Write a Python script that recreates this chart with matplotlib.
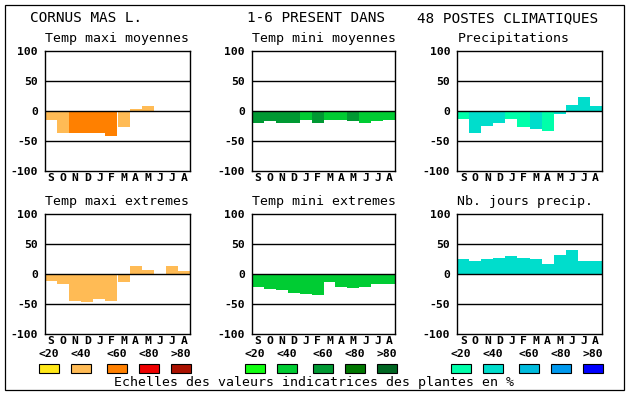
import numpy as np
import matplotlib.pyplot as plt
from matplotlib.patches import Rectangle

plt.rcParams['font.family'] = ['DejaVu Sans Mono']

# --- Data ---
months = ['S', 'O', 'N', 'D', 'J', 'F', 'M', 'A', 'M', 'J', 'J', 'A']

titles = ['Temp maxi moyennes', 'Temp mini moyennes', 'Precipitations',
          'Temp maxi extremes', 'Temp mini extremes', 'Nb. jours precip.']

tmax_moy = [-16, -38, -38, -37, -37, -42, -28, 2, 7, -2, -2, 0]
tmax_moy_cls = [1, 1, 2, 2, 2, 2, 1, 1, 1, 1, 1, 1]

tmin_moy = [-21, -18, -21, -21, -16, -21, -16, -16, -18, -21, -18, -16]
tmin_moy_cls = [2, 2, 2, 2, 1, 2, 1, 1, 2, 1, 1, 1]

precip = [-14, -38, -25, -21, -14, -27, -31, -33, -6, 10, 23, 7]
precip_cls = [0, 1, 1, 1, 0, 0, 1, 0, 1, 1, 1, 1]

tmax_ext = [-11, -16, -44, -46, -41, -44, -12, 14, 7, 0, 14, 6]
tmax_ext_cls = [1] * 12

tmin_ext = [-21, -24, -26, -31, -33, -34, -13, -21, -23, -21, -16, -16]
tmin_ext_cls = [1] * 12

jours_precip = [25, 22, 25, 27, 30, 27, 25, 17, 32, 40, 23, 23]
jours_precip_cls = [1] * 12

legend_labels = ['<20', '<40', '<60', '<80', '>80']
pal_orange = ['#ffe819', '#ffbb55', '#ff8000', '#ee0000', '#aa1100']
pal_green = ['#11ff11', '#00cc33', '#009933', '#007700', '#006622']
pal_blue = ['#00ffaa', '#00ddcc', '#00bbdd', '#0099ee', '#0000ff']

panels = [
    (tmax_moy, tmax_moy_cls, pal_orange),
    (tmin_moy, tmin_moy_cls, pal_green),
    (precip, precip_cls, pal_blue),
    (tmax_ext, tmax_ext_cls, pal_orange),
    (tmin_ext, tmin_ext_cls, pal_green),
    (jours_precip, jours_precip_cls, pal_blue),
]

W, H = 630, 394
fig = plt.figure(figsize=(W / 100, H / 100), dpi=100)

# overlay axes in pixel units for the frame, titles and legend
ov = fig.add_axes([0, 0, 1, 1])
ov.set_xlim(0, W)
ov.set_ylim(H, 0)
ov.axis('off')

ov.add_patch(Rectangle((5, 4.5), 619, 385.5, fill=False, ec='black', lw=0.9))
ov.text(30.5, 18, 'CORNUS MAS L.', fontsize=10.4, va='center', ha='left')
ov.text(247, 18, '1-6 PRESENT DANS', fontsize=10.4, va='center', ha='left')
ov.text(417, 18, '48 POSTES CLIMATIQUES', fontsize=10.4, va='center', ha='left')

col_x = [(45, 190), (251.7, 395.3), (457.3, 601.7)]
row_y = [(50.7, 170.7), (214.3, 334.3)]

for i, (vals, cls, pal) in enumerate(panels):
    r, c = divmod(i, 3)
    x0, x1 = col_x[c]
    y0, y1 = row_y[r]
    ax = fig.add_axes([x0 / W, (H - y1) / H, (x1 - x0) / W, (y1 - y0) / H])
    colors = [pal[k] for k in cls]
    ax.bar(np.arange(12), vals, width=1.0, align='edge', color=colors, linewidth=0, zorder=1)
    for v in (-50, 0, 50):
        ax.axhline(v, color='black', lw=1.0, zorder=3)
    ax.set_xlim(0, 12)
    ax.set_ylim(-100, 100)
    ax.set_yticks([-100, -50, 0, 50, 100])
    ax.set_yticklabels(['-100', '-50', '0', '50', '100'], fontweight='bold', fontsize=8.2)
    ax.set_xticks(np.arange(12) + 0.5)
    ax.set_xticklabels(months, fontweight='bold', fontsize=8.2)
    ax.tick_params(length=0, pad=1.5, axis='x')
    ax.tick_params(length=0, pad=5, axis='y')
    for s in ax.spines.values():
        s.set_linewidth(1.0)
        s.set_zorder(4)
    ov.text(x0, y0 - 12.5, titles[i], fontsize=9.5, va='center', ha='left')

# legend swatches
offsets = [0, 32, 68, 100, 132]
for g, pal in enumerate([pal_orange, pal_green, pal_blue]):
    gx = 39.3 + 206 * g
    for k, off in enumerate(offsets):
        sx = gx + off
        ov.add_patch(Rectangle((sx, 364.3), 20, 8.7, fc=pal[k], ec='black', lw=0.8))
        ov.text(sx + 10, 354, legend_labels[k], fontsize=8.2, fontweight='bold',
                ha='center', va='center')

ov.text(314.5, 382.5, 'Echelles des valeurs indicatrices des plantes en %',
        fontsize=9.5, ha='center', va='center')

fig.savefig('out.png', dpi=100)
